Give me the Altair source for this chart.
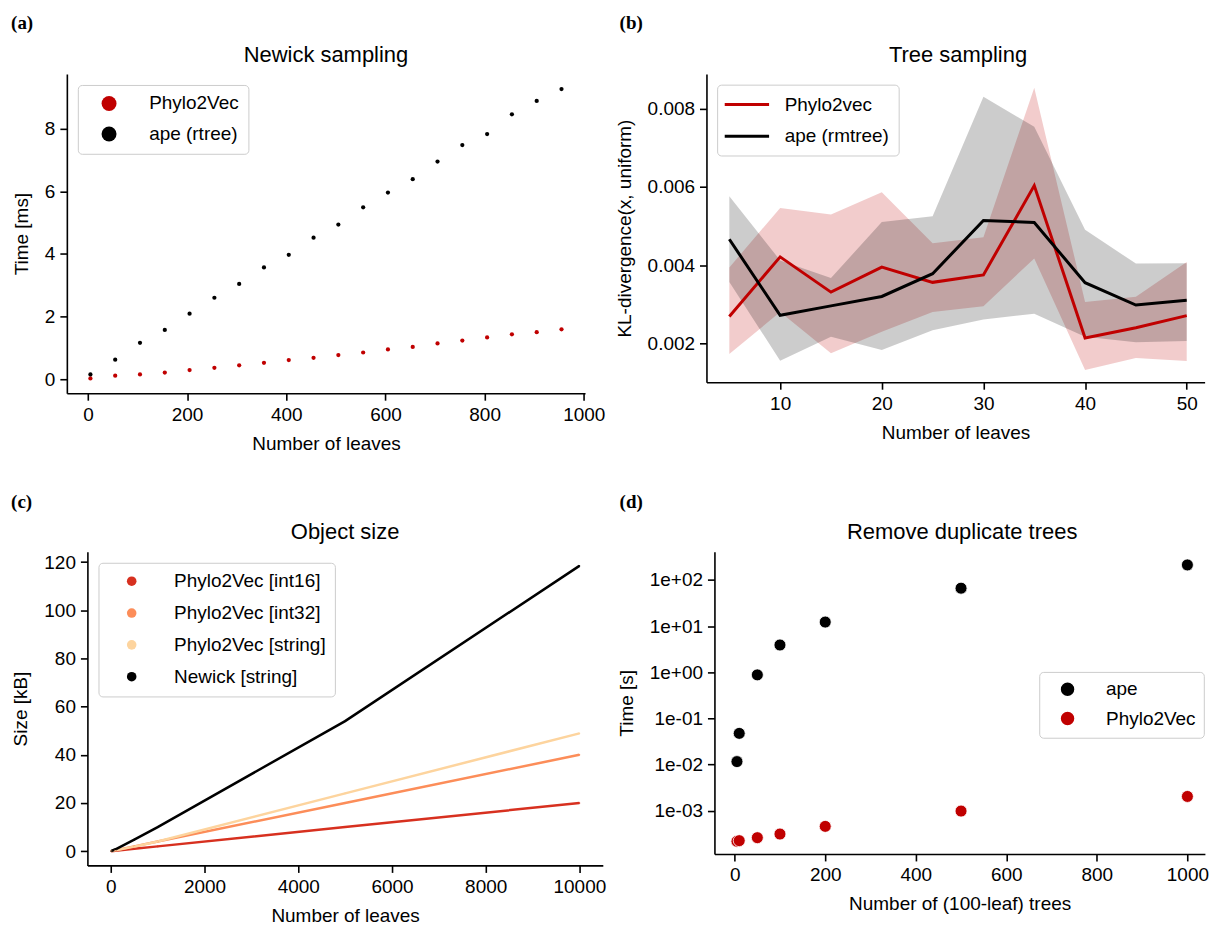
import altair as alt
import pandas as pd

FONT = "Liberation Sans"
RED = "#c00000"

# ---------------- data ----------------
panel_labels = ["(a)", "(b)", "(c)", "(d)"]
titles = ["Newick sampling", "Tree sampling", "Object size", "Remove duplicate trees"]

# (a) Newick sampling
a_leaves = [5, 55, 105, 155, 205, 255, 305, 355, 405, 455, 505, 555, 605, 655, 705, 755, 805, 855, 905, 955]
a_ape = [0.15, 0.62, 1.16, 1.57, 2.09, 2.60, 3.04, 3.57, 3.97, 4.52, 4.94, 5.49, 5.96, 6.39, 6.95, 7.48, 7.83, 8.46, 8.89, 9.27]
a_p2v = [0.02, 0.11, 0.15, 0.21, 0.29, 0.36, 0.44, 0.52, 0.61, 0.68, 0.77, 0.85, 0.95, 1.03, 1.14, 1.23, 1.33, 1.43, 1.50, 1.59]
a_series = ["Phylo2Vec", "ape (rtree)"]

# (b) Tree sampling
b_leaves = [5, 10, 15, 20, 25, 30, 35, 40, 45, 50]
b_p2v = [0.00269, 0.00421, 0.00331, 0.00395, 0.00356, 0.00375, 0.00603, 0.00214, 0.00240, 0.00271]
b_p2v_lo = [0.00173, 0.00280, 0.00175, 0.00230, 0.00280, 0.00295, 0.00417, 0.00132, 0.00163, 0.00155]
b_p2v_hi = [0.00394, 0.00546, 0.00529, 0.00586, 0.00456, 0.00471, 0.00853, 0.00306, 0.00319, 0.00408]
b_ape = [0.00466, 0.00272, 0.00296, 0.00320, 0.00378, 0.00514, 0.00509, 0.00355, 0.00298, 0.00310]
b_ape_lo = [0.00357, 0.00156, 0.00217, 0.00183, 0.00234, 0.00261, 0.00276, 0.00217, 0.00203, 0.00206]
b_ape_hi = [0.00576, 0.00412, 0.00367, 0.00510, 0.00525, 0.00830, 0.00753, 0.00490, 0.00404, 0.00405]
b_series = ["Phylo2vec", "ape (rmtree)"]

# (c) Object size
c_leaves = [10, 100, 500, 1000, 5000, 10000]
c_int16 = [0.02, 0.2, 1.0, 2.0, 10.0, 20.0]
c_int32 = [0.04, 0.4, 2.0, 4.0, 20.0, 40.0]
c_string = [0.03, 0.35, 1.9, 4.0, 24.0, 48.9]
c_newick = [0.08, 0.8, 4.8, 10.0, 54.0, 118.4]
c_series = ["Phylo2Vec [int16]", "Phylo2Vec [int32]", "Phylo2Vec [string]", "Newick [string]"]
c_colors = ["#d7301f", "#fc8d59", "#fdd49e", "#000000"]

# (d) Remove duplicate trees
d_trees = [5, 10, 50, 100, 200, 500, 1000]
d_ape = [0.0116, 0.0474, 0.876, 3.89, 12.2, 66.1, 211.0]
d_p2v = [0.000218, 0.000225, 0.000261, 0.000313, 0.000459, 0.000984, 0.00204]
d_series = ["ape", "Phylo2Vec"]

# ---------------- tables ----------------
df_a = pd.DataFrame({
    "leaves": a_leaves * 2,
    "time": a_p2v + a_ape,
    "series_a": [a_series[0]] * len(a_leaves) + [a_series[1]] * len(a_leaves),
})
df_b_line = pd.DataFrame({
    "leaves": b_leaves * 2,
    "kl": b_p2v + b_ape,
    "series_b": [b_series[0]] * len(b_leaves) + [b_series[1]] * len(b_leaves),
})
df_b_p2v = pd.DataFrame({"leaves": b_leaves, "lo": b_p2v_lo, "hi": b_p2v_hi})
df_b_ape = pd.DataFrame({"leaves": b_leaves, "lo": b_ape_lo, "hi": b_ape_hi})
df_c = pd.DataFrame({
    "leaves": c_leaves * 4,
    "size": c_int16 + c_int32 + c_string + c_newick,
    "series_c": sum([[s] * len(c_leaves) for s in c_series], []),
    "order": sum([[i] * len(c_leaves) for i in range(4)], []),
})
df_d = pd.DataFrame({
    "trees": d_trees * 2,
    "time": d_ape + d_p2v,
    "series_d": [d_series[0]] * len(d_trees) + [d_series[1]] * len(d_trees),
})


def title_text(t, cx, dy=-12.5):
    return alt.Chart(pd.DataFrame({"t": [t]})).mark_text(
        align="center", baseline="alphabetic", font=FONT, fontSize=22, color="black"
    ).encode(text="t:N", x=alt.value(cx), y=alt.value(dy))


def label(t, dx, dy):
    return alt.Chart(pd.DataFrame({"t": [t]})).mark_text(
        align="left", baseline="top", font="Liberation Serif", fontWeight="bold",
        fontSize=19, color="black"
    ).encode(text="t:N", x=alt.value(dx), y=alt.value(dy))


def legend(x, y, rowpad, symsize, symoffset, laboffset, padding=9, **kw):
    return alt.Legend(title=None, orient="none", legendX=x, legendY=y, direction="vertical",
                      padding=padding, rowPadding=rowpad, symbolSize=symsize,
                      symbolOffset=symoffset, labelOffset=laboffset, labelFont=FONT,
                      labelFontSize=19, labelColor="black", labelLimit=400,
                      strokeColor="#cccccc", fillColor="rgba(255,255,255,0.85)",
                      cornerRadius=4, **kw)


# ---------------- panel (a) ----------------
WA, HA = 519.5, 320
pts_a = alt.Chart(df_a).mark_circle(size=18, opacity=1).encode(
    x=alt.X("leaves:Q", scale=alt.Scale(domain=[-42.5, 1002.5], nice=False, zero=False),
            axis=alt.Axis(title="Number of leaves", values=[0, 200, 400, 600, 800, 1000], format="d")),
    y=alt.Y("time:Q", scale=alt.Scale(domain=[-0.45, 9.75], nice=False, zero=False),
            axis=alt.Axis(title="Time [ms]", values=[0, 2, 4, 6, 8])),
    color=alt.Color("series_a:N", scale=alt.Scale(domain=a_series, range=[RED, "black"]),
                    legend=legend(11, 11, 10.7, 225, 12.8, 30.7, symbolType="circle")),
)
chart_a = alt.layer(pts_a, label(panel_labels[0], -55.9, -60),
                    title_text(titles[0], WA / 2)).properties(width=WA, height=HA)

# ---------------- panel (b) ----------------
WB, HB = 499.4, 309
xb = alt.X("leaves:Q", scale=alt.Scale(domain=[2.75, 51.76], nice=False, zero=False),
           axis=alt.Axis(title="Number of leaves", values=[10, 20, 30, 40, 50]))
yscale_b = alt.Scale(domain=[0.00101, 0.00888], nice=False, zero=False)
area_p = alt.Chart(df_b_p2v).mark_area(color=RED, opacity=0.2).encode(
    x=xb, y=alt.Y("lo:Q", scale=yscale_b), y2="hi:Q")
area_a = alt.Chart(df_b_ape).mark_area(color="black", opacity=0.2).encode(
    x=xb, y=alt.Y("lo:Q", scale=yscale_b), y2="hi:Q")
line_b = alt.Chart(df_b_line).mark_line(strokeWidth=3).encode(
    x=xb,
    y=alt.Y("kl:Q", scale=yscale_b,
            axis=alt.Axis(title="KL-divergence(x, uniform)", values=[0.002, 0.004, 0.006, 0.008],
                          format=".3f")),
    color=alt.Color("series_b:N", scale=alt.Scale(domain=b_series, range=[RED, "black"]),
                    legend=legend(10.7, 10.7, 10.7, 361, 9.85, 26.85,
                                  symbolType="M-2.34,0H2.34", symbolStrokeWidth=3)),
)
chart_b = alt.layer(area_p, area_a, line_b, label(panel_labels[1], -87.1, -60),
                    title_text(titles[1], (WB + 5) / 2)).properties(width=WB, height=HB)

# ---------------- panel (c) ----------------
OC = 20.6          # plot area starts this far right of panel (a)'s
PC = 516.7         # plot width
WC, HC = OC + PC, 314.5
xc = alt.X("leaves:Q", scale=alt.Scale(domain=[-500, 10500], nice=False, zero=False, range=[OC, WC]),
           axis=alt.Axis(title="Number of leaves", values=[0, 2000, 4000, 6000, 8000, 10000], format="d"))
yc = alt.Y("size:Q", scale=alt.Scale(domain=[-5.9, 124.3], nice=False, zero=False),
           axis=alt.Axis(title="Size [kB]", values=[0, 20, 40, 60, 80, 100, 120], offset=-OC))
cscale = alt.Scale(domain=c_series, range=c_colors)
line_c = alt.Chart(df_c).mark_line(strokeWidth=2.5).encode(
    x=xc, y=yc, order="leaves:Q", detail="order:N",
    color=alt.Color("series_c:N", scale=cscale, legend=None))
pts_c = alt.Chart(df_c).mark_circle(size=3, opacity=1).encode(
    x=xc, y=yc,
    color=alt.Color("series_c:N", scale=cscale,
                    legend=legend(OC + 11.1, 11.1, 11.9, 92, 14.8, 33, symbolType="circle")))
chart_c = alt.layer(line_c, pts_c, label(panel_labels[2], OC - 76.5, -58.9),
                    title_text(titles[2], OC + PC / 2)).resolve_scale(
    color="independent").properties(width=WC, height=HC)

# ---------------- panel (d) ----------------
OD = 8.0
PD = 491.7
WD, HD = OD + PD, 303
pts_d = alt.Chart(df_d).mark_circle(size=144, opacity=1, stroke="white", strokeWidth=0.8).encode(
    x=alt.X("trees:Q", scale=alt.Scale(domain=[-44.75, 1038.7], nice=False, zero=False, range=[OD, WD]),
            axis=alt.Axis(title="Number of (100-leaf) trees", values=[0, 200, 400, 600, 800, 1000], format="d")),
    y=alt.Y("time:Q", scale=alt.Scale(type="log", domain=[1.16e-4, 408], nice=False),
            axis=alt.Axis(title="Time [s]", values=[0.001, 0.01, 0.1, 1, 10, 100], offset=-OD,
                          labelExpr="'1e' + (datum.value >= 1 ? '+' : '-') + '0' + abs(round(log(datum.value) / LN10))")),
    color=alt.Color("series_d:N", scale=alt.Scale(domain=d_series, range=["black", RED]),
                    legend=legend(OD + 325.6, 120.5, 8.3, 225, 10.9, 29.1, padding=8, symbolType="circle")),
)
chart_d = alt.layer(pts_d, label(panel_labels[3], OD - 95.1, -58.9),
                    title_text(titles[3], OD + (PD + 5) / 2)).properties(width=WD, height=HD)

# ---------------- layout ----------------
chart = alt.concat(
    chart_a, chart_b, chart_c, chart_d,
    columns=2,
    spacing={"row": 158.9, "column": 103.2},
    align="each",
    bounds="flush",
).resolve_scale(
    color="independent"
).properties(
    padding={"left": 3, "top": 5, "right": 0, "bottom": 5},
    background="white",
).configure_view(stroke=None).configure_axis(
    domainColor="black", domainWidth=1.6, tickColor="black", tickWidth=1.6, tickSize=7,
    labelFont=FONT, labelFontSize=19, labelColor="black", labelPadding=5,
    titleFont=FONT, titleFontSize=19, titleFontWeight="normal", titleColor="black",
    titlePadding=10, grid=False, labelOverlap=False, labelFlush=False,
).configure_axisY(titlePadding=13)

chart.save("out.html", embed_options={"renderer": "svg", "actions": False})
